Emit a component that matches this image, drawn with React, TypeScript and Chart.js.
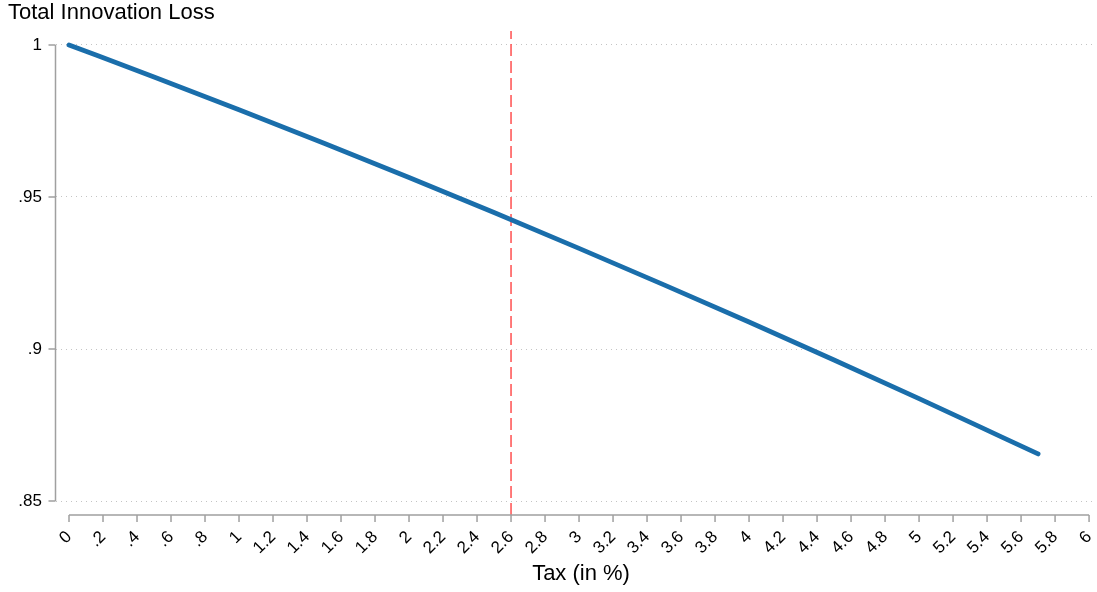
import React, { useEffect, useRef } from "react";
import { Chart, registerables } from "chart.js";

Chart.register(...registerables);

// Data
const taxRates = [0, 0.5, 1, 1.5, 2, 2.5, 3, 3.5, 4, 4.5, 5, 5.5, 5.7];
const innovationLoss = [1.0, 0.9895, 0.9787, 0.9677, 0.9564, 0.9449, 0.9331, 0.9211, 0.9089, 0.8964, 0.8837, 0.8707, 0.8655];
const policyTax = 2.6;

const xTickValues = [0, 0.2, 0.4, 0.6, 0.8, 1, 1.2, 1.4, 1.6, 1.8, 2, 2.2, 2.4, 2.6, 2.8, 3, 3.2, 3.4, 3.6, 3.8, 4, 4.2, 4.4, 4.6, 4.8, 5, 5.2, 5.4, 5.6, 5.8, 6];
const xTickLabels = ["0", ".2", ".4", ".6", ".8", "1", "1.2", "1.4", "1.6", "1.8", "2", "2.2", "2.4", "2.6", "2.8", "3", "3.2", "3.4", "3.6", "3.8", "4", "4.2", "4.4", "4.6", "4.8", "5", "5.2", "5.4", "5.6", "5.8", "6"];
const yTickValues = [0.85, 0.9, 0.95, 1];
const yTickLabels = [".85", ".9", ".95", "1"];

const chartTitle = "Total Innovation Loss";
const xTitle = "Tax (in %)";

const X_MIN = -0.0765;
const X_MAX = 6.029;
const Y_MIN = 0.8454;
const Y_MAX = 1.0046;

const FONT = "'Liberation Sans', Arial, Helvetica, sans-serif";
const AXIS_COLOR = "#a0a0a0";

const axisPlugin = {
  id: "stataAxes",
  afterDraw(chart: any) {
    const { ctx, chartArea, scales } = chart;
    const xs = scales.x;
    const ys = scales.y;
    ctx.save();
    ctx.strokeStyle = AXIS_COLOR;
    ctx.lineWidth = 1.5;
    ctx.setLineDash([]);
    // y axis
    const yl = chartArea.left - 0.5;
    ctx.beginPath();
    ctx.moveTo(yl, ys.getPixelForValue(yTickValues[yTickValues.length - 1]));
    ctx.lineTo(yl, ys.getPixelForValue(yTickValues[0]));
    for (const v of yTickValues) {
      const py = ys.getPixelForValue(v);
      ctx.moveTo(yl, py);
      ctx.lineTo(yl - 7, py);
    }
    ctx.stroke();
    // x axis
    const xb = chartArea.bottom;
    ctx.beginPath();
    ctx.moveTo(xs.getPixelForValue(xTickValues[0]), xb);
    ctx.lineTo(xs.getPixelForValue(xTickValues[xTickValues.length - 1]), xb);
    for (const v of xTickValues) {
      const px = xs.getPixelForValue(v);
      ctx.moveTo(px, xb);
      ctx.lineTo(px, xb + 7);
    }
    ctx.stroke();
    // x title
    ctx.fillStyle = "#000";
    ctx.font = `22px ${FONT}`;
    ctx.textAlign = "center";
    ctx.textBaseline = "alphabetic";
    const cx = (xs.getPixelForValue(xTickValues[0]) + xs.getPixelForValue(xTickValues[xTickValues.length - 1])) / 2;
    ctx.fillText(xTitle, cx + 2, 580);
    ctx.restore();
  },
};

export default function App() {
  const canvasRef = useRef<HTMLCanvasElement | null>(null);

  useEffect(() => {
    if (!canvasRef.current) return;
    const chart = new Chart(canvasRef.current, {
      type: "line",
      data: {
        datasets: [
          {
            label: "Innovation loss",
            data: taxRates.map((t, i) => ({ x: t, y: innovationLoss[i] })),
            borderColor: "#1a6eab",
            borderWidth: 4.8,
            borderCapStyle: "round",
            borderJoinStyle: "round",
            pointRadius: 0,
            fill: false,
            cubicInterpolationMode: "monotone",
          },
          {
            label: "Policy",
            data: [
              { x: policyTax, y: Y_MIN },
              { x: policyTax, y: Y_MAX },
            ],
            borderColor: "rgb(255,80,80)",
            borderWidth: 1.5,
            borderDash: [12, 5],
            pointRadius: 0,
            fill: false,
          },
        ],
      },
      options: {
        animation: false,
        responsive: false,
        maintainAspectRatio: false,
        layout: { padding: { left: 8, right: 3, top: 0, bottom: 0 } },
        plugins: {
          legend: { display: false },
          tooltip: { enabled: false },
          title: {
            display: true,
            text: chartTitle,
            align: "start",
            color: "#000",
            font: { family: FONT, size: 22, weight: "normal", lineHeight: 1.2 },
            padding: { top: 0, bottom: 4.6 },
          },
        },
        scales: {
          x: {
            type: "linear",
            min: X_MIN,
            max: X_MAX,
            afterBuildTicks: (scale: any) => {
              scale.ticks = xTickValues.map((v) => ({ value: v }));
            },
            afterFit: (scale: any) => {
              scale.height = 77;
              scale.paddingLeft = 0;
              scale.paddingRight = 0;
            },
            grid: { display: false, drawTicks: false },
            border: { display: false },
            ticks: {
              autoSkip: false,
              minRotation: 45,
              maxRotation: 45,
              padding: 12,
              color: "#000",
              font: { family: FONT, size: 17 },
              callback: (value: any) => {
                const i = xTickValues.findIndex((v) => Math.abs(v - Number(value)) < 1e-9);
                return i >= 0 ? xTickLabels[i] : "";
              },
            },
          },
          y: {
            type: "linear",
            min: Y_MIN,
            max: Y_MAX,
            afterBuildTicks: (scale: any) => {
              scale.ticks = yTickValues.map((v) => ({ value: v }));
            },
            afterFit: (scale: any) => {
              scale.width = 48;
              scale.paddingTop = 0;
              scale.paddingBottom = 0;
            },
            grid: {
              display: true,
              drawTicks: false,
              color: "#c4c4c4",
              lineWidth: 1,
            },
            border: { display: false, dash: [1, 4] },
            ticks: {
              padding: 14,
              color: "#000",
              font: { family: FONT, size: 17 },
              callback: (value: any) => {
                const i = yTickValues.findIndex((v) => Math.abs(v - Number(value)) < 1e-9);
                return i >= 0 ? yTickLabels[i] : "";
              },
            },
          },
        },
      },
      plugins: [axisPlugin],
    });
    return () => chart.destroy();
  }, []);

  return (
    <div style={{ position: "absolute", left: 0, top: 0, width: 1097, height: 592, background: "#fff" }}>
      <canvas ref={canvasRef} width={1097} height={592} style={{ width: 1097, height: 592 }} />
    </div>
  );
}
